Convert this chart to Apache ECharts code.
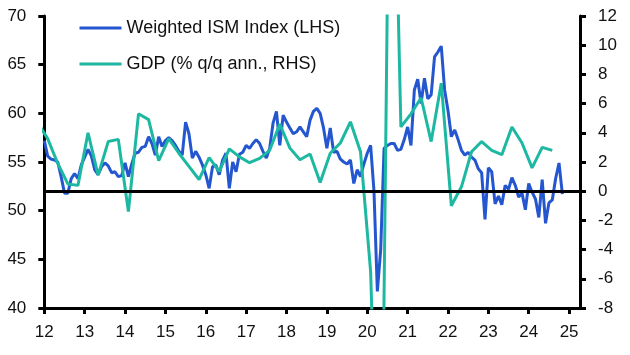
<!DOCTYPE html>
<html>
<head>
<meta charset="utf-8">
<script src="https://cdn.jsdelivr.net/npm/echarts@6/dist/echarts.min.js"></script>
<style>
html,body{margin:0;padding:0;background:#fff;}
#chart{width:630px;height:355px;}
</style>
</head>
<body>
<div id="chart"></div>
<script>
// Year tick labels
const yearTicks = [2012,2013,2014,2015,2016,2017,2018,2019,2020,2021,2022,2023,2024,2025];
const yearLabels = ['12','13','14','15','16','17','18','19','20','21','22','23','24','25'];

// Weighted ISM Index (LHS), monthly from Jan 2012
const ismStart = 2012;
const ism2012 = [57.2,55.6,55.3,55.2,55.0,53.5,51.8,51.8,53.3,53.8,53.3,54.7];
const ism2013 = [55.5,56.3,55.6,54.2,53.7,54.5,54.9,54.6,53.9,54.0,53.5,53.6];
const ism2014 = [54.9,53.5,54.8,55.9,56.0,56.5,56.6,57.6,56.9,55.7,57.6,56.6];
const ism2015 = [57.2,57.5,57.2,56.7,56.1,55.7,59.1,57.9,55.4,56.1,55.5,54.7];
const ism2016 = [53.7,52.3,54.5,54.7,53.7,55.2,55.9,52.3,55.0,54.0,55.8,56.0];
const ism2017 = [56.7,56.4,56.9,57.3,56.9,56.1,55.4,56.4,59.0,60.2,56.7,59.8];
const ism2018 = [59.1,58.5,57.9,58.1,58.6,58.1,57.6,59.3,60.2,60.5,60.0,58.5];
const ism2019 = [56.4,58.5,56.0,56.1,55.3,55.0,54.8,55.2,52.8,54.2,53.5,54.8];
const ism2020 = [55.9,56.7,52.0,41.7,46.0,56.4,56.7,56.9,56.9,56.2,56.3,57.3];
const ism2021 = [58.6,56.7,62.4,63.5,61.0,63.6,61.5,61.9,65.8,66.3,66.9,62.4];
const ism2022 = [60.3,57.6,58.3,57.3,56.2,55.7,56.0,55.5,55.2,54.3,53.9,49.1];
const ism2023 = [54.4,54.0,50.7,51.5,50.6,52.6,52.2,53.4,52.6,51.4,51.8,50.1];
const ism2024 = [52.8,51.9,51.2,49.3,53.2,48.7,50.8,51.1,53.3,54.9,51.7];

// GDP (% q/q ann., RHS), quarterly from 2011 Q4
const gdpStartYear = 2011, gdpStartQuarter = 4;
const gdpValues = [4.7,
  3.6,1.9,0.5,0.4,
  4.0,1.1,3.4,3.55,
  -1.4,5.3,4.9,2.1,
  3.6,2.6,1.7,0.8,
  2.3,1.35,2.9,2.35,
  1.95,2.25,2.8,4.6,
  2.95,2.15,2.55,0.6,
  2.6,3.3,4.75,2.7,
  -5.5,-28.0,34.8,4.4,
  5.3,6.4,3.4,7.4,
  -1.0,0.3,2.7,3.4,
  2.8,2.5,4.4,3.3,
  1.6,3.0,2.8];

const ismValues = [].concat(ism2012,ism2013,ism2014,ism2015,ism2016,ism2017,ism2018,ism2019,ism2020,ism2021,ism2022,ism2023,ism2024);
const ismData = ismValues.map((v,i)=>[ismStart + i/12, v]);
const gdpData = gdpValues.map((v,i)=>{
  const q = gdpStartQuarter - 1 + i;
  const y = gdpStartYear + Math.floor(q/4);
  const qq = q % 4;
  return [y + (3*qq + 1)/12, v];
});

const FONT = 'Liberation Sans';
const axisCommon = {
  axisLine:{show:true,onZero:false,lineStyle:{color:'#000',width:3}},
  axisTick:{show:true,inside:false,length:6,lineStyle:{color:'#000',width:3}},
  splitLine:{show:false}
};

const chart = echarts.init(document.getElementById('chart'),null,{renderer:'canvas'});
chart.setOption({
  animation:false,
  backgroundColor:'#fff',
  textStyle:{fontFamily:FONT},
  grid:{left:44.3,right:50,top:16,bottom:47,containLabel:false},
  legend:{
    orient:'vertical',left:78,top:17,padding:0,
    itemWidth:42,itemHeight:22,itemGap:14,
    itemStyle:{opacity:0,borderWidth:0},
    lineStyle:{width:3},
    textStyle:{fontSize:18,color:'#111',fontFamily:FONT,lineHeight:22},
    data:['Weighted ISM Index (LHS)','GDP (% q/q ann., RHS)']
  },
  xAxis:{
    type:'value',min:2012,max:2025.27,interval:1,
    axisLine:axisCommon.axisLine,
    axisTick:Object.assign({},axisCommon.axisTick,{customValues:yearTicks}),
    axisLabel:{customValues:yearTicks,fontSize:17,color:'#111',margin:16,fontFamily:FONT,
      formatter:v=>{const i=yearTicks.indexOf(Math.round(v)); return (Math.abs(v-Math.round(v))<1e-6 && i>=0)?yearLabels[i]:'';}},
    splitLine:{show:false}
  },
  yAxis:[
    Object.assign({type:'value',position:'left',min:40,max:70,interval:5,
      axisLabel:{fontSize:17,color:'#111',margin:18,fontFamily:FONT}},axisCommon),
    Object.assign({type:'value',position:'right',min:-8,max:12,interval:2,
      axisLabel:{fontSize:17,color:'#111',margin:18,fontFamily:FONT}},axisCommon)
  ],
  series:[
    {type:'line',name:'zero',data:[],yAxisIndex:0,z:1,silent:true,
      markLine:{silent:true,symbol:'none',label:{show:false},
        lineStyle:{color:'#000',width:3,type:'solid'},data:[{yAxis:52}]}},
    {type:'line',name:'Weighted ISM Index (LHS)',data:ismData,yAxisIndex:0,z:3,
      showSymbol:false,symbol:'none',color:'#2457cf',lineStyle:{color:'#2457cf',width:3}},
    {type:'line',name:'GDP (% q/q ann., RHS)',data:gdpData,yAxisIndex:1,z:4,
      showSymbol:false,symbol:'none',color:'#1db8a2',lineStyle:{color:'#1db8a2',width:3}}
  ]
});
</script>
</body>
</html>
